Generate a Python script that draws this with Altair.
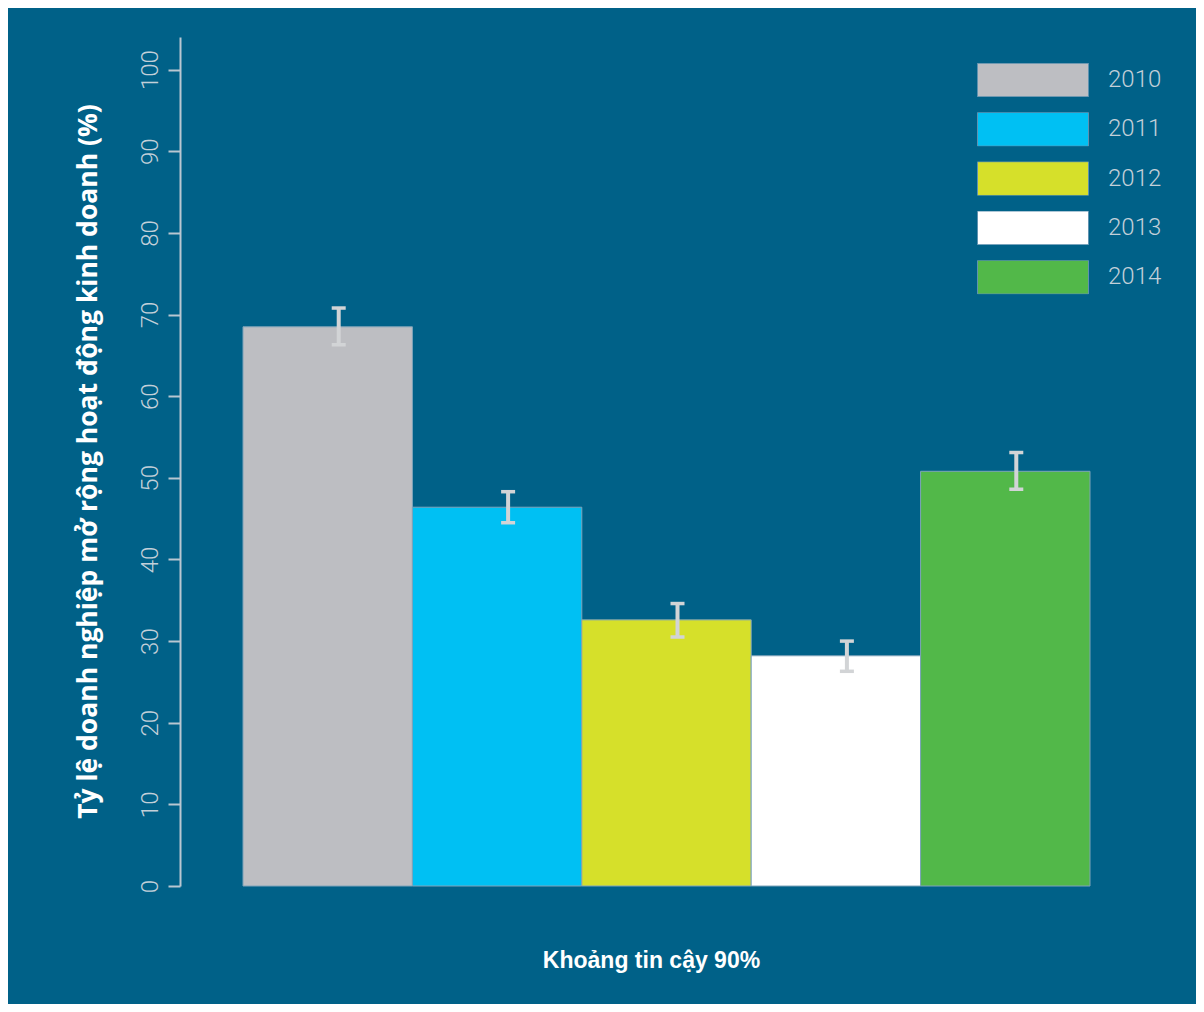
import altair as alt
import pandas as pd

years = ["2010", "2011", "2012", "2013", "2014"]
values = [68.5, 46.4, 32.6, 28.2, 50.8]
lower = [66.3, 44.5, 30.5, 26.3, 48.6]
upper = [70.8, 48.3, 34.6, 30.0, 53.1]
colors = ["#bdbec2", "#00c0f3", "#d6e02a", "#ffffff", "#52b849"]
y_ticks = [0, 10, 20, 30, 40, 50, 60, 70, 80, 90, 100]

df = pd.DataFrame({"year": years, "value": values, "lo": lower, "hi": upper})

BG = "#006188"
AXIS_C = "#b9c7d1"
LABEL_C = "#c3d0d9"
ERR_C = "#d2d4d6"

x_enc = alt.X(
    "year:N",
    sort=years,
    scale=alt.Scale(paddingInner=0, paddingOuter=0.372),
    axis=alt.Axis(
        title="Khoảng tin cậy 90%",
        labels=False, ticks=False, domain=False, grid=False,
        titleFont="Liberation Sans", titleFontWeight="bold", titleFontSize=23,
        titleColor="white", titleX=471, titleY=74, titleAlign="center",
        titleBaseline="middle",
    ),
)
y_scale = alt.Scale(domain=[0, 104], nice=False, zero=True)

bars = alt.Chart(df).mark_bar(stroke="#7fa4ba", strokeWidth=1).encode(
    x=x_enc,
    y=alt.Y(
        "value:Q",
        scale=y_scale,
        axis=alt.Axis(
            values=y_ticks, grid=False,
            title="Tỷ lệ doanh nghiệp mở rộng hoạt động kinh doanh (%)",
            titleFont="Open Sans", titleFontWeight="bold", titleFontSize=26.5,
            titleColor="white", titleAngle=270, titleX=-92, titleY=424,
            titleAlign="center", titleBaseline="middle",
            domainColor=AXIS_C, domainWidth=2,
            tickColor=AXIS_C, tickWidth=2, tickSize=12,
            labelFont="Roboto", labelFontWeight=300, labelFontSize=24,
            labelColor=LABEL_C, labelAngle=270, labelAlign="center",
            labelBaseline="alphabetic", labelPadding=11,
        ),
    ),
    color=alt.Color(
        "year:N",
        sort=years,
        scale=alt.Scale(domain=years, range=colors),
        legend=alt.Legend(
            title=None, orient="none", legendX=797, legendY=26,
            padding=0, symbolType="M-1,-0.304H1V0.304H-1Z",
            symbolSize=12321, clipHeight=34, rowPadding=15.3,
            symbolStrokeColor="#5f92b0", symbolStrokeWidth=1,
            symbolOpacity=1,
            labelOffset=19, labelFont="Roboto", labelFontWeight=300,
            labelFontSize=24, labelColor=LABEL_C, labelBaseline="middle",
        ),
    ),
)

rules = alt.Chart(df).mark_rule(color=ERR_C, strokeWidth=4, xOffset=11).encode(
    x=alt.X("year:N", sort=years), y=alt.Y("lo:Q", scale=y_scale), y2="hi:Q"
)
cap_hi = alt.Chart(df).mark_tick(color=ERR_C, size=14, thickness=3.5, xOffset=11, opacity=1).encode(
    x=alt.X("year:N", sort=years), y=alt.Y("hi:Q", scale=y_scale)
)
cap_lo = alt.Chart(df).mark_tick(color=ERR_C, size=14, thickness=3.5, xOffset=11, opacity=1).encode(
    x=alt.X("year:N", sort=years), y=alt.Y("lo:Q", scale=y_scale)
)

chart = (
    alt.layer(bars, rules, cap_hi, cap_lo)
    .properties(
        width=973, height=849,
        autosize=alt.AutoSizeParams(type="none"),
        padding={"left": 172, "top": 29, "right": 43, "bottom": 118},
        background=BG,
    )
    .configure_view(stroke=None)
)

chart.save("out.html", embed_options={"renderer": "svg", "actions": False})
